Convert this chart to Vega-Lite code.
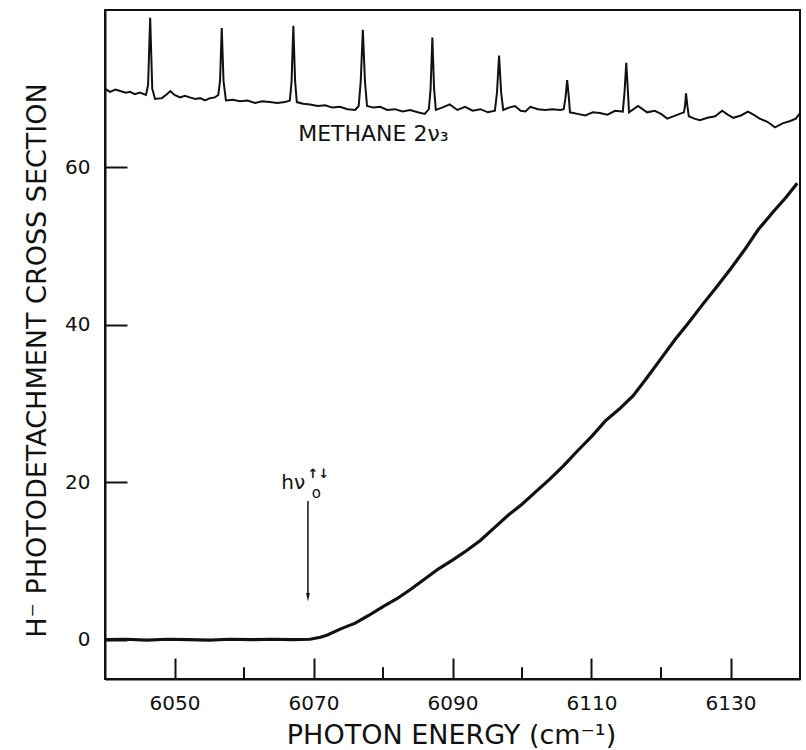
{
  "$schema": "https://vega.github.io/schema/vega-lite/v6.json",
  "width": 695,
  "height": 669,
  "autosize": "none",
  "padding": {"left": 105, "top": 10, "right": 6, "bottom": 71},
  "background": "white",
  "config": {
    "view": {"stroke": "#111111", "strokeWidth": 2},
    "font": "DejaVu Sans"
  },
  "datasets": {
    "threshold": [
      {"energy": 6040, "value": 0}, {"energy": 6043, "value": 0.05}, {"energy": 6046, "value": -0.05},
      {"energy": 6049, "value": 0.05}, {"energy": 6052, "value": 0}, {"energy": 6055, "value": -0.05},
      {"energy": 6058, "value": 0.05}, {"energy": 6061, "value": 0}, {"energy": 6064, "value": 0.05},
      {"energy": 6067, "value": 0}, {"energy": 6069.5, "value": 0.05}, {"energy": 6071, "value": 0.3},
      {"energy": 6072, "value": 0.6}, {"energy": 6074, "value": 1.4}, {"energy": 6076, "value": 2.1},
      {"energy": 6078, "value": 3.1}, {"energy": 6080, "value": 4.2}, {"energy": 6082, "value": 5.2},
      {"energy": 6084, "value": 6.4}, {"energy": 6086, "value": 7.7}, {"energy": 6088, "value": 9.0},
      {"energy": 6090, "value": 10.1}, {"energy": 6092, "value": 11.3}, {"energy": 6094, "value": 12.6},
      {"energy": 6096, "value": 14.2}, {"energy": 6098, "value": 15.8}, {"energy": 6100, "value": 17.2},
      {"energy": 6102, "value": 18.8}, {"energy": 6104, "value": 20.4}, {"energy": 6106, "value": 22.1},
      {"energy": 6108, "value": 24.0}, {"energy": 6110, "value": 25.8}, {"energy": 6112, "value": 27.8},
      {"energy": 6114, "value": 29.3}, {"energy": 6116, "value": 31.0}, {"energy": 6118, "value": 33.3},
      {"energy": 6120, "value": 35.7}, {"energy": 6122, "value": 38.1}, {"energy": 6124, "value": 40.3},
      {"energy": 6126, "value": 42.6}, {"energy": 6128, "value": 44.8}, {"energy": 6130, "value": 47.1},
      {"energy": 6132, "value": 49.5}, {"energy": 6134, "value": 52.1}, {"energy": 6136, "value": 54.2},
      {"energy": 6138, "value": 56.2}, {"energy": 6139.6, "value": 58.0}
    ],
    "methane": [
      {"energy": 6040, "value": 70.0}, {"energy": 6040.7, "value": 69.6}, {"energy": 6041.5, "value": 69.9},
      {"energy": 6042.2, "value": 69.7}, {"energy": 6043.0, "value": 69.5}, {"energy": 6043.6, "value": 69.6},
      {"energy": 6044.3, "value": 69.3}, {"energy": 6045.0, "value": 69.5}, {"energy": 6045.9, "value": 69.2},
      {"energy": 6046.2, "value": 70.5}, {"energy": 6046.5, "value": 79.0}, {"energy": 6046.8, "value": 70.0},
      {"energy": 6047.2, "value": 68.7}, {"energy": 6048.2, "value": 68.8}, {"energy": 6048.9, "value": 69.3},
      {"energy": 6049.4, "value": 69.7}, {"energy": 6050.0, "value": 69.2}, {"energy": 6050.8, "value": 68.9},
      {"energy": 6051.5, "value": 69.1}, {"energy": 6052.2, "value": 68.9}, {"energy": 6053.0, "value": 68.7},
      {"energy": 6053.7, "value": 68.8}, {"energy": 6054.4, "value": 68.5}, {"energy": 6055.1, "value": 68.8},
      {"energy": 6055.8, "value": 68.9}, {"energy": 6056.3, "value": 69.2}, {"energy": 6056.55, "value": 71.0},
      {"energy": 6056.8, "value": 77.7}, {"energy": 6057.05, "value": 71.0}, {"energy": 6057.4, "value": 68.5},
      {"energy": 6058.4, "value": 68.6}, {"energy": 6059.4, "value": 68.4}, {"energy": 6060.5, "value": 68.5},
      {"energy": 6061.6, "value": 68.2}, {"energy": 6062.6, "value": 68.4}, {"energy": 6063.7, "value": 68.3},
      {"energy": 6064.8, "value": 68.2}, {"energy": 6065.9, "value": 68.3}, {"energy": 6066.6, "value": 68.5},
      {"energy": 6066.85, "value": 71.0}, {"energy": 6067.1, "value": 78.0}, {"energy": 6067.35, "value": 71.0},
      {"energy": 6067.6, "value": 68.3}, {"energy": 6068.5, "value": 68.1}, {"energy": 6069.5, "value": 68.0},
      {"energy": 6070.6, "value": 67.8}, {"energy": 6071.7, "value": 67.9}, {"energy": 6072.7, "value": 67.6},
      {"energy": 6073.8, "value": 67.7}, {"energy": 6074.9, "value": 67.4}, {"energy": 6076.0, "value": 67.3},
      {"energy": 6076.5, "value": 67.8}, {"energy": 6076.8, "value": 71.0}, {"energy": 6077.1, "value": 77.5},
      {"energy": 6077.4, "value": 71.0}, {"energy": 6077.7, "value": 67.8}, {"energy": 6078.6, "value": 67.6},
      {"energy": 6079.6, "value": 67.7}, {"energy": 6080.6, "value": 67.3}, {"energy": 6081.7, "value": 67.4},
      {"energy": 6082.8, "value": 67.1}, {"energy": 6083.9, "value": 67.3}, {"energy": 6085.0, "value": 67.0},
      {"energy": 6086.0, "value": 66.8}, {"energy": 6086.6, "value": 67.4}, {"energy": 6086.85, "value": 70.0},
      {"energy": 6087.1, "value": 76.5}, {"energy": 6087.35, "value": 70.0}, {"energy": 6087.6, "value": 67.3},
      {"energy": 6088.5, "value": 67.6}, {"energy": 6089.6, "value": 68.0}, {"energy": 6090.7, "value": 67.3},
      {"energy": 6091.8, "value": 67.7}, {"energy": 6092.9, "value": 67.2}, {"energy": 6094.0, "value": 67.4},
      {"energy": 6095.1, "value": 67.0}, {"energy": 6096.1, "value": 67.2}, {"energy": 6096.4, "value": 69.5},
      {"energy": 6096.7, "value": 74.2}, {"energy": 6097.0, "value": 69.5}, {"energy": 6097.3, "value": 67.3},
      {"energy": 6098.1, "value": 67.6}, {"energy": 6099.0, "value": 67.8}, {"energy": 6099.8, "value": 67.2},
      {"energy": 6100.5, "value": 67.1}, {"energy": 6101.2, "value": 67.7}, {"energy": 6102.3, "value": 67.4},
      {"energy": 6103.3, "value": 67.3}, {"energy": 6104.4, "value": 67.4}, {"energy": 6105.5, "value": 67.3},
      {"energy": 6106.0, "value": 67.4}, {"energy": 6106.25, "value": 68.8}, {"energy": 6106.5, "value": 71.1},
      {"energy": 6106.75, "value": 68.8}, {"energy": 6106.9, "value": 67.0}, {"energy": 6108.0, "value": 66.8},
      {"energy": 6109.1, "value": 66.6}, {"energy": 6110.2, "value": 67.0}, {"energy": 6111.2, "value": 66.9},
      {"energy": 6112.3, "value": 66.7}, {"energy": 6113.4, "value": 67.2}, {"energy": 6114.5, "value": 67.1},
      {"energy": 6114.75, "value": 69.5}, {"energy": 6115.0, "value": 73.3}, {"energy": 6115.25, "value": 69.5},
      {"energy": 6115.4, "value": 67.0}, {"energy": 6116.7, "value": 67.8}, {"energy": 6118.0, "value": 67.0},
      {"energy": 6119.1, "value": 67.2}, {"energy": 6120.0, "value": 66.8}, {"energy": 6120.9, "value": 66.2},
      {"energy": 6122.7, "value": 66.8}, {"energy": 6123.3, "value": 67.0}, {"energy": 6123.45, "value": 67.8},
      {"energy": 6123.6, "value": 69.4}, {"energy": 6123.8, "value": 67.8}, {"energy": 6124.0, "value": 66.5},
      {"energy": 6124.8, "value": 66.2}, {"energy": 6125.6, "value": 66.0}, {"energy": 6126.7, "value": 66.3},
      {"energy": 6127.8, "value": 66.5}, {"energy": 6128.8, "value": 67.2}, {"energy": 6129.6, "value": 66.7},
      {"energy": 6130.4, "value": 66.3}, {"energy": 6131.5, "value": 66.6}, {"energy": 6132.5, "value": 67.1},
      {"energy": 6133.3, "value": 66.7}, {"energy": 6134.2, "value": 66.2}, {"energy": 6135.3, "value": 65.8},
      {"energy": 6136.4, "value": 65.1}, {"energy": 6137.5, "value": 65.6}, {"energy": 6138.6, "value": 65.9},
      {"energy": 6139.4, "value": 66.2}, {"energy": 6140, "value": 66.9}
    ],
    "minor_ticks": [
      {"energy": 6060, "low": -5, "high": -3.5},
      {"energy": 6080, "low": -5, "high": -3.5},
      {"energy": 6100, "low": -5, "high": -3.5},
      {"energy": 6120, "low": -5, "high": -3.5}
    ],
    "labels": [
      {"energy": 6067.8, "value": 63.4, "text": "METHANE 2ν₃"}
    ],
    "hnu": [
      {"energy": 6068.8, "value": 19.1, "text": "hν"}
    ],
    "sub": [
      {"energy": 6070.4, "value": 18.6, "text": "o"}
    ],
    "sup": [
      {"energy": 6070.7, "value": 21.1, "text": "↑↓"}
    ],
    "arrow": [
      {"energy": 6069.2, "top": 17.6, "bottom": 5.5}
    ],
    "arrowhead": [
      {"energy": 6069.2, "value": 5.4}
    ]
  },
  "layer": [
    {
      "data": {"name": "threshold"},
      "mark": {"type": "line", "color": "#111111", "strokeWidth": 3.2, "clip": true},
      "encoding": {
        "x": {
          "field": "energy", "type": "quantitative",
          "scale": {"domain": [6040, 6140], "nice": false, "zero": false},
          "axis": {
            "title": "PHOTON ENERGY (cm⁻¹)",
            "values": [6050, 6070, 6090, 6110, 6130],
            "format": "d",
            "tickSize": -21,
            "tickColor": "#111111", "tickWidth": 2,
            "domainColor": "#111111", "domainWidth": 2,
            "labelFont": "DejaVu Sans", "labelFontSize": 20, "labelColor": "#111111",
            "labelPadding": 35, "labelFlush": false,
            "grid": false,
            "titleFont": "DejaVu Sans", "titleFontSize": 27, "titleFontWeight": "normal", "titleColor": "#111111",
            "titleX": 346, "titleY": 64, "titleBaseline": "alphabetic", "titleAlign": "center"
          }
        },
        "y": {
          "field": "value", "type": "quantitative",
          "scale": {"domain": [-5, 80], "nice": false, "zero": false},
          "axis": {
            "title": "H⁻ PHOTODETACHMENT CROSS SECTION",
            "values": [0, 20, 40, 60],
            "tickSize": -22,
            "tickColor": "#111111", "tickWidth": 2,
            "domainColor": "#111111", "domainWidth": 2,
            "labelFont": "DejaVu Sans", "labelFontSize": 20, "labelColor": "#111111",
            "labelPadding": 37, "labelFlush": false,
            "grid": false,
            "titleFont": "DejaVu Sans", "titleFontSize": 27, "titleFontWeight": "normal", "titleColor": "#111111",
            "titleX": -60, "titleY": 350, "titleAngle": -90, "titleBaseline": "alphabetic", "titleAlign": "center"
          }
        }
      }
    },
    {
      "data": {"name": "methane"},
      "mark": {"type": "line", "color": "#111111", "strokeWidth": 2, "clip": true},
      "encoding": {
        "x": {"field": "energy", "type": "quantitative"},
        "y": {"field": "value", "type": "quantitative"}
      }
    },
    {
      "data": {"name": "minor_ticks"},
      "mark": {"type": "rule", "color": "#111111", "strokeWidth": 2},
      "encoding": {
        "x": {"field": "energy", "type": "quantitative"},
        "y": {"field": "low", "type": "quantitative"},
        "y2": {"field": "high"}
      }
    },
    {
      "data": {"name": "labels"},
      "mark": {"type": "text", "align": "left", "baseline": "alphabetic", "font": "DejaVu Sans", "fontSize": 22, "color": "#111111"},
      "encoding": {
        "x": {"field": "energy", "type": "quantitative"},
        "y": {"field": "value", "type": "quantitative"},
        "text": {"field": "text"}
      }
    },
    {
      "data": {"name": "hnu"},
      "mark": {"type": "text", "align": "right", "baseline": "alphabetic", "font": "DejaVu Sans", "fontSize": 20, "color": "#111111"},
      "encoding": {
        "x": {"field": "energy", "type": "quantitative"},
        "y": {"field": "value", "type": "quantitative"},
        "text": {"field": "text"}
      }
    },
    {
      "data": {"name": "sub"},
      "mark": {"type": "text", "align": "center", "baseline": "middle", "font": "DejaVu Sans", "fontSize": 15, "color": "#111111"},
      "encoding": {
        "x": {"field": "energy", "type": "quantitative"},
        "y": {"field": "value", "type": "quantitative"},
        "text": {"field": "text"}
      }
    },
    {
      "data": {"name": "sup"},
      "mark": {"type": "text", "align": "center", "baseline": "middle", "font": "DejaVu Sans", "fontSize": 13, "fontWeight": "bold", "color": "#111111"},
      "encoding": {
        "x": {"field": "energy", "type": "quantitative"},
        "y": {"field": "value", "type": "quantitative"},
        "text": {"field": "text"}
      }
    },
    {
      "data": {"name": "arrow"},
      "mark": {"type": "rule", "color": "#111111", "strokeWidth": 1.5},
      "encoding": {
        "x": {"field": "energy", "type": "quantitative"},
        "y": {"field": "top", "type": "quantitative"},
        "y2": {"field": "bottom"}
      }
    },
    {
      "data": {"name": "arrowhead"},
      "mark": {"type": "point", "shape": "M-0.22,-0.5L0.22,-0.5L0,0.5Z", "size": 289, "filled": true, "color": "#111111", "opacity": 1},
      "encoding": {
        "x": {"field": "energy", "type": "quantitative"},
        "y": {"field": "value", "type": "quantitative"}
      }
    }
  ]
}
